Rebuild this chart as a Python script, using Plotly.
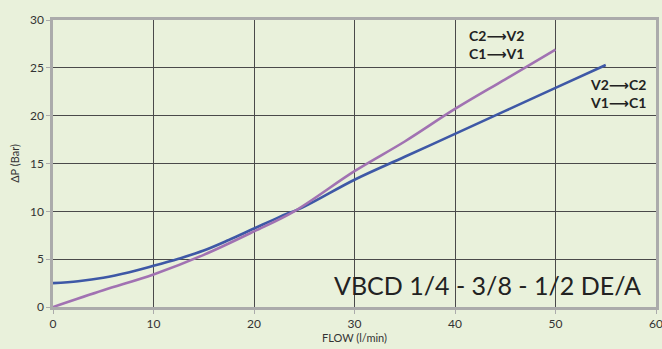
import plotly.graph_objects as go

flow_blue = [0, 2.5, 5, 7.5, 10, 12.5, 15, 17.5, 20, 22.5, 25, 30, 35, 40, 45, 50, 55]
dp_blue = [2.5, 2.7, 3.05, 3.6, 4.3, 5.05, 5.9, 7.0, 8.2, 9.4, 10.5, 13.3, 15.7, 18.1, 20.5, 22.9, 25.3]

flow_purple = [0, 5, 10, 15, 20, 24, 30, 35, 40, 45, 50]
dp_purple = [0.0, 1.75, 3.4, 5.45, 7.9, 10.0, 14.2, 17.3, 20.7, 23.8, 26.9]

x_ticks = [0, 10, 20, 30, 40, 50, 60]
y_ticks = [0, 5, 10, 15, 20, 25, 30]

label_a = "C2\u27F6V2<br>C1\u27F6V1"
label_b = "V2\u27F6C2<br>V1\u27F6C1"
title_text = "VBCD 1/4 - 3/8 - 1/2 DE/A"

bg = "#E9F1DB"
fig = go.Figure()
fig.add_trace(go.Scatter(x=flow_blue, y=dp_blue, mode="lines", line=dict(color="#3E58A6", width=2.6, shape="spline", smoothing=1), hoverinfo="skip"))
fig.add_trace(go.Scatter(x=flow_purple, y=dp_purple, mode="lines", line=dict(color="#A172B2", width=2.6, shape="spline", smoothing=1), hoverinfo="skip"))

fig.update_layout(
    width=662, height=349,
    margin=dict(l=53, r=6, t=20, b=42),
    paper_bgcolor=bg, plot_bgcolor=bg,
    showlegend=False,
    font=dict(family="Lato, DejaVu Sans, sans-serif", color="#333333"),
)
fig.update_xaxes(range=[0, 60], tickvals=x_ticks, showgrid=True, gridcolor="#4a4a4a", gridwidth=1,
                 showline=True, linecolor="#ababab", linewidth=2.5, mirror=True, automargin=False,
                 ticklabeloverflow="allow",
                 ticks="outside", ticklen=4, tickcolor="#ababab", tickfont=dict(size=12, color="#333"),
                 zeroline=False,
                 title=dict(text="FLOW (l/min)", font=dict(size=11, color="#333"), standoff=2))
fig.update_yaxes(range=[0, 30], tickvals=y_ticks, showgrid=True, gridcolor="#4a4a4a", gridwidth=1,
                 showline=True, linecolor="#ababab", linewidth=2.5, mirror=True, automargin=False,
                 ticks="outside", ticklen=4, tickcolor="#ababab", tickfont=dict(size=12, color="#333"),
                 zeroline=False,
                 title=dict(text="\u0394P (Bar)", font=dict(size=11, color="#333"), standoff=9))

lab_font = dict(size=14, color="#222", family="Lato, DejaVu Sans, sans-serif", weight="bold")
fig.add_annotation(x=44.1, y=27.4, xref="x", yref="y", text=label_a, showarrow=False,
                   font=lab_font, align="left", xanchor="center", yanchor="middle")
fig.add_annotation(x=59.2, y=22.36, xref="x", yref="y", text=label_b, showarrow=False,
                   font=lab_font, align="right", xanchor="right", yanchor="middle")
fig.add_annotation(x=43.2, y=2.3, xref="x", yref="y", text=title_text, showarrow=False,
                   font=dict(size=25, color="#222", family="Lato, DejaVu Sans, sans-serif"),
                   xanchor="center", yanchor="middle")

fig.write_html("out.html", config={"displayModeBar": False},
               post_script="document.body.style.margin='0';document.body.style.overflow='hidden';")
